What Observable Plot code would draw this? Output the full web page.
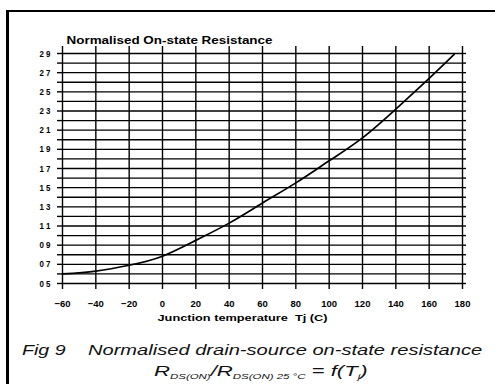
<!DOCTYPE html>
<html>
<head>
<meta charset="utf-8">
<script src="https://cdn.jsdelivr.net/npm/d3@7"></script>
<script src="https://cdn.jsdelivr.net/npm/@observablehq/plot@0.6"></script>
<style>
  html, body { margin: 0; padding: 0; background: #fff; }
  #wrap { position: relative; width: 495px; height: 384px; overflow: hidden; background: #fff; font-family: "Liberation Sans", Arial, sans-serif; }
  #border { position: absolute; left: 6px; top: 10px; width: 495px; height: 380px; border-top: 2.5px solid #000; border-left: 3px solid #000; }
  #chart { position: absolute; left: 0; top: 0; }
  .cap { position: absolute; font-style: italic; color: #111; white-space: nowrap; font-size: 15.5px; line-height: 1; transform-origin: 0 0; }
  .cap sub { font-size: 8px; vertical-align: -3px; font-style: italic; }
</style>
</head>
<body>
<div id="wrap">
  <div id="border"></div>
  <div id="chart"></div>
  <div class="cap" id="capA" style="left:22px; top:342px;">Fig 9</div>
  <div class="cap" id="capB" style="left:88px; top:342px;">Normalised drain-source on-state resistance</div>
  <div class="cap" id="capC" style="left:154px; top:363px;">R<sub>DS(ON)</sub>/R<sub>DS(ON) 25 °C</sub> = f(T<sub>j</sub>)</div>
</div>
<script>
const chartTitle = "Normalised On-state Resistance";
const xTitle = "Junction temperature  Tj (C)";
const xTicks = [-60, -40, -20, 0, 20, 40, 60, 80, 100, 120, 140, 160, 180];
const yLabelTicks = [0.5, 0.7, 0.9, 1.1, 1.3, 1.5, 1.7, 1.9, 2.1, 2.3, 2.5, 2.7, 2.9];
const yGridTicks = [0.5,0.6,0.7,0.8,0.9,1.0,1.1,1.2,1.3,1.4,1.5,1.6,1.7,1.8,1.9,2.0,2.1,2.2,2.3,2.4,2.5,2.6,2.7,2.8,2.9];
const temperature = [-60, -40, -20, 0, 20, 40, 60, 80, 100, 120, 140, 160, 175];
const resistance = [0.60, 0.63, 0.69, 0.785, 0.95, 1.13, 1.34, 1.55, 1.78, 2.02, 2.32, 2.64, 2.89];

const data = temperature.map((t, i) => ({t, r: resistance[i]}));

const chart = Plot.plot({
  width: 495,
  height: 330,
  marginLeft: 62,
  marginRight: 33,
  marginTop: 53,
  marginBottom: 47,
  style: {fontFamily: "'Liberation Sans', Arial, sans-serif", color: "#000", background: "transparent", overflow: "visible"},
  x: {domain: [-60, 180]},
  y: {domain: [0.5, 2.9]},
  marks: [
    Plot.gridY(yGridTicks, {stroke: "#000", strokeOpacity: 1, strokeWidth: 1.4}),
    Plot.gridX(xTicks, {stroke: "#000", strokeOpacity: 1, strokeWidth: 1.4}),
    Plot.axisY(yLabelTicks, {anchor: "left", tickSize: 0, tickPadding: 12, tickFormat: d => d.toFixed(1).replace(".", " "), fontWeight: "bold", fontSize: 9.5, label: null}),
    Plot.axisY(yGridTicks, {anchor: "left", tickSize: 5, tickFormat: () => "", label: null, strokeWidth: 1.4}),
    Plot.axisY(yGridTicks, {anchor: "right", tickSize: 3, tickFormat: () => "", label: null, strokeWidth: 1.4}),
    Plot.axisX(xTicks, {anchor: "bottom", tickSize: 6, tickPadding: 11, fontWeight: "bold", fontSize: 9.5, label: null, strokeWidth: 1.4}),
    Plot.axisX(xTicks, {anchor: "top", tickSize: 8, tickFormat: () => "", label: null, strokeWidth: 1.4}),
    Plot.line(data, {x: "t", y: "r", curve: "natural", stroke: "#000", strokeWidth: 1.7}),
    Plot.text([chartTitle], {frameAnchor: "top-left", textAnchor: "start", dx: 4, dy: -17, fontWeight: "bold", fontSize: 10.5, fill: "#000"}),
    Plot.text([xTitle], {frameAnchor: "bottom-left", textAnchor: "start", dx: 95, dy: 37, fontWeight: "bold", fontSize: 9, fill: "#000"})
  ]
});
document.getElementById("chart").appendChild(chart);

// stretch the scanned-looking texts to the widths seen in the reference
const widths = new Map([[chartTitle, 206], [xTitle, 170]]);
chart.querySelectorAll("text").forEach(t => {
  const s = t.textContent;
  const w = widths.get(s) ?? (/^\d \d$/.test(s) ? 11 : null);
  if (w) { t.setAttribute("textLength", w); t.setAttribute("lengthAdjust", "spacingAndGlyphs"); }
});
const capWidths = {capA: 43, capB: 394, capC: 213};
for (const [id, w] of Object.entries(capWidths)) {
  const el = document.getElementById(id);
  el.style.transform = `scaleX(${w / el.offsetWidth})`;
}
</script>
</body>
</html>
